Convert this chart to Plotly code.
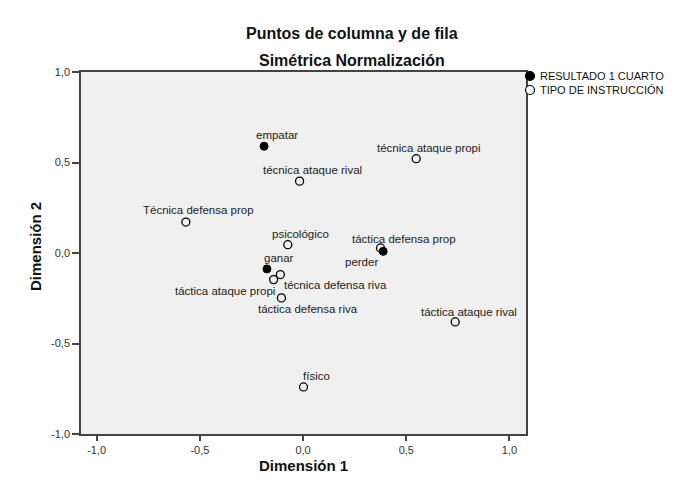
import plotly.graph_objects as go

# RESULTADO 1 CUARTO (filled markers)
res_labels = ["empatar", "ganar", "perder"]
res_x = [-0.189, -0.175, 0.388]
res_y = [0.590, -0.088, 0.009]

# TIPO DE INSTRUCCIÓN (open markers)
tipo_labels = ["técnica ataque propi", "técnica ataque rival", "Técnica defensa prop",
               "psicológico", "táctica defensa prop", "técnica defensa riva",
               "táctica ataque propi", "táctica defensa riva", "táctica ataque rival",
               "físico"]
tipo_x = [0.548, -0.017, -0.568, -0.074, 0.375, -0.110, -0.143, -0.105, 0.737, 0.002]
tipo_y = [0.521, 0.397, 0.171, 0.046, 0.028, -0.119, -0.147, -0.248, -0.381, -0.740]

legend_names = ["RESULTADO 1 CUARTO", "TIPO DE INSTRUCCIÓN"]
x_ticks = [-1.0, -0.5, 0.0, 0.5, 1.0]
y_ticks = [-1.0, -0.5, 0.0, 0.5, 1.0]
tick_text = ["-1,0", "-0,5", "0,0", "0,5", "1,0"]

# label offsets in pixels (style, not data)
res_shift = [(13, 11), (12, 11), (-22, -11)]
tipo_shift = [(13, 11), (13, 11), (13, 12), (13, 11), (24, 9), (55, -10),
              (-49, -11), (27, -11), (14, 10), (13, 11)]

font = "Liberation Sans, Arial, sans-serif"
W, H = 672, 472
L, R, T, B = 73, 154, 64, 46

fig = go.Figure()
fig.add_trace(go.Scatter(
    x=res_x, y=res_y, mode="markers", name=legend_names[0], hoverinfo="text", text=res_labels,
    marker=dict(symbol="circle", size=8, color="black", line=dict(color="black", width=1)),
))
fig.add_trace(go.Scatter(
    x=tipo_x, y=tipo_y, mode="markers", name=legend_names[1], hoverinfo="text", text=tipo_labels,
    marker=dict(symbol="circle-open", size=8, color="black", line=dict(color="black", width=1.3)),
))

anns = []
for lab, xx, yy, (dx, dy) in list(zip(res_labels, res_x, res_y, res_shift)) + \
        list(zip(tipo_labels, tipo_x, tipo_y, tipo_shift)):
    anns.append(dict(x=xx, y=yy, xref="x", yref="y", text=lab, showarrow=False,
                     xanchor="center", yanchor="middle", xshift=dx, yshift=dy,
                     font=dict(family=font, size=11.5, color="#222")))

pw = W - L - R
ph = H - T - B
# titles
anns.append(dict(x=(343.5 - L) / pw, y=1, xref="paper", yref="paper", yshift=(T - 25),
                 text="<b>Puntos de columna y de fila</b>", showarrow=False,
                 xanchor="center", yanchor="middle", font=dict(family=font, size=16, color="#111")))
anns.append(dict(x=(343.5 - L) / pw, y=1, xref="paper", yref="paper", yshift=(T - 52),
                 text="<b>Simétrica Normalización</b>", showarrow=False,
                 xanchor="center", yanchor="middle", font=dict(family=font, size=16, color="#111")))
# axis titles
anns.append(dict(x=0.5, y=0, xref="paper", yref="paper", yshift=-31,
                 text="<b>Dimensión 1</b>", showarrow=False,
                 xanchor="center", yanchor="middle", font=dict(family=font, size=15, color="#111")))
anns.append(dict(x=0, y=0.5, xref="paper", yref="paper", xshift=-46, yshift=6, textangle=-90,
                 text="<b>Dimensión 2</b>", showarrow=False,
                 xanchor="center", yanchor="middle", font=dict(family=font, size=15, color="#111")))
# manual legend
leg_y = [1 - (68 - T) / ph, 1 - (82 - T) / ph]
leg_x = (522 - L) / pw
shapes = []
for i, name in enumerate(legend_names):
    shapes.append(dict(type="circle", xref="paper", yref="paper", xsizemode="pixel", ysizemode="pixel",
                       xanchor=leg_x, yanchor=leg_y[i], x0=-4.5, x1=4.5, y0=-4.5, y1=4.5,
                       fillcolor="black" if i == 0 else "white", line=dict(color="black", width=1.2)))
    anns.append(dict(x=leg_x, y=leg_y[i], xref="paper", yref="paper", xshift=8,
                     text=name, showarrow=False, xanchor="left", yanchor="middle",
                     font=dict(family=font, size=11, color="#111")))

fig.update_layout(
    width=W, height=H,
    margin=dict(l=L, r=R, t=T, b=B, autoexpand=False),
    paper_bgcolor="white",
    plot_bgcolor="#f0f0f0",
    font=dict(family=font, size=11, color="#222"),
    showlegend=False,
    annotations=anns,
    shapes=shapes,
)
fig.update_xaxes(
    range=[-1.076, 1.080], tickvals=x_ticks, ticktext=tick_text, automargin=False,
    showgrid=False, zeroline=False, showline=True, linecolor="#444", linewidth=1.5,
    mirror=True, ticks="outside", ticklen=5, tickcolor="#444", tickwidth=1.5,
    tickfont=dict(size=11, color="#333"),
)
fig.update_yaxes(
    range=[-1.0, 1.0], tickvals=y_ticks, ticktext=tick_text, automargin=False,
    showgrid=False, zeroline=False, showline=True, linecolor="#444", linewidth=1.5,
    mirror=True, ticks="outside", ticklen=7, tickcolor="#444", tickwidth=1.5,
    tickfont=dict(size=11, color="#333"),
)

fig.write_html("out.html")
